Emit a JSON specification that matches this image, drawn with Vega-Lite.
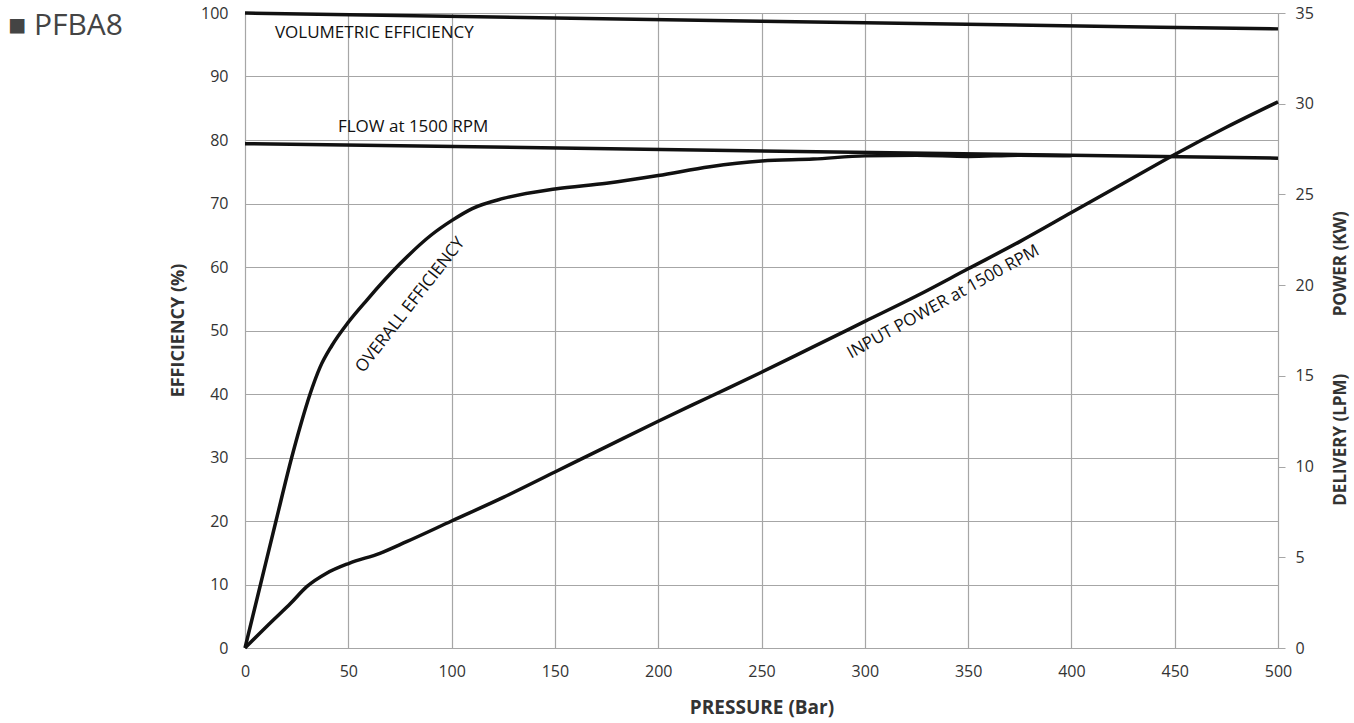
{
  "$schema": "https://vega.github.io/schema/vega-lite/v6.json",
  "width": 1033,
  "height": 635,
  "autosize": {"type": "none"},
  "padding": {"left": 245, "top": 13, "right": 76, "bottom": 75},
  "background": "white",
  "title": {
    "text": "■ PFBA8",
    "anchor": "start",
    "frame": "group",
    "dx": -237,
    "dy": 40,
    "font": "Open Sans",
    "fontSize": 30,
    "fontWeight": "normal",
    "color": "#444444"
  },
  "config": {
    "view": {"stroke": null},
    "axis": {
      "labelFont": "Open Sans",
      "labelFontSize": 16,
      "labelColor": "#333333",
      "titleFont": "Open Sans",
      "titleFontSize": 18,
      "titleFontWeight": "bold",
      "titleColor": "#333333",
      "gridColor": "#a6a6a6",
      "gridWidth": 1.2,
      "domainColor": "#a6a6a6",
      "tickColor": "#a6a6a6"
    }
  },
  "datasets": {
    "left": [
      {"series": "VOL", "p": 0, "v": 100},
      {"series": "VOL", "p": 250, "v": 98.7},
      {"series": "VOL", "p": 500, "v": 97.5},
      {"series": "OVR", "p": 0, "v": 0},
      {"series": "OVR", "p": 7.5, "v": 10},
      {"series": "OVR", "p": 15, "v": 20},
      {"series": "OVR", "p": 22.6, "v": 30},
      {"series": "OVR", "p": 27, "v": 35.2},
      {"series": "OVR", "p": 31.5, "v": 40},
      {"series": "OVR", "p": 36.3, "v": 44.2},
      {"series": "OVR", "p": 42, "v": 47.6},
      {"series": "OVR", "p": 50, "v": 51.3},
      {"series": "OVR", "p": 59, "v": 54.8},
      {"series": "OVR", "p": 75, "v": 60.5},
      {"series": "OVR", "p": 90, "v": 65},
      {"series": "OVR", "p": 100, "v": 67.3},
      {"series": "OVR", "p": 110, "v": 69.2},
      {"series": "OVR", "p": 125, "v": 70.8},
      {"series": "OVR", "p": 150, "v": 72.3},
      {"series": "OVR", "p": 175, "v": 73.2},
      {"series": "OVR", "p": 200, "v": 74.4},
      {"series": "OVR", "p": 225, "v": 75.8},
      {"series": "OVR", "p": 250, "v": 76.7},
      {"series": "OVR", "p": 275, "v": 77.0},
      {"series": "OVR", "p": 300, "v": 77.5},
      {"series": "OVR", "p": 325, "v": 77.6},
      {"series": "OVR", "p": 350, "v": 77.4},
      {"series": "OVR", "p": 375, "v": 77.6},
      {"series": "OVR", "p": 400, "v": 77.5}
    ],
    "right": [
      {"series": "FLOW", "p": 0, "v": 27.8},
      {"series": "FLOW", "p": 500, "v": 27.0},
      {"series": "PWR", "p": 0, "v": 0},
      {"series": "PWR", "p": 13.7, "v": 1.54},
      {"series": "PWR", "p": 22, "v": 2.45},
      {"series": "PWR", "p": 29.9, "v": 3.38},
      {"series": "PWR", "p": 39.5, "v": 4.12},
      {"series": "PWR", "p": 50.4, "v": 4.67},
      {"series": "PWR", "p": 65.3, "v": 5.22},
      {"series": "PWR", "p": 78.2, "v": 5.86},
      {"series": "PWR", "p": 100, "v": 7.0},
      {"series": "PWR", "p": 125, "v": 8.3},
      {"series": "PWR", "p": 150, "v": 9.7},
      {"series": "PWR", "p": 175, "v": 11.1},
      {"series": "PWR", "p": 200, "v": 12.5},
      {"series": "PWR", "p": 225, "v": 13.85},
      {"series": "PWR", "p": 250, "v": 15.2},
      {"series": "PWR", "p": 275, "v": 16.6},
      {"series": "PWR", "p": 300, "v": 18.0},
      {"series": "PWR", "p": 325, "v": 19.4},
      {"series": "PWR", "p": 350, "v": 20.9},
      {"series": "PWR", "p": 375, "v": 22.4},
      {"series": "PWR", "p": 400, "v": 24.0},
      {"series": "PWR", "p": 425, "v": 25.6},
      {"series": "PWR", "p": 450, "v": 27.2},
      {"series": "PWR", "p": 475, "v": 28.7},
      {"series": "PWR", "p": 500, "v": 30.1}
    ],
    "labels": [
      {"label": "VOLUMETRIC EFFICIENCY", "p": 14.5, "v": 96.9},
      {"label": "FLOW at 1500 RPM", "p": 45, "v": 82},
      {"label": "OVERALL EFFICIENCY", "p": 80, "v": 54},
      {"label": "INPUT POWER at 1500 RPM", "p": 338, "v": 54.5}
    ]
  },
  "layer": [
    {
      "encoding": {
        "x": {
          "field": "p",
          "type": "quantitative",
          "scale": {"domain": [0, 500], "nice": false},
          "axis": {
            "values": [0, 50, 100, 150, 200, 250, 300, 350, 400, 450, 500],
            "grid": true,
            "ticks": false,
            "labelFlush": false,
            "labelPadding": 15,
            "title": "PRESSURE (Bar)",
            "titleFontSize": 19,
            "titleY": 59,
            "titleBaseline": "middle"
          }
        },
        "y": {
          "field": "v",
          "type": "quantitative",
          "scale": {"domain": [0, 100], "nice": false},
          "axis": {
            "values": [0, 10, 20, 30, 40, 50, 60, 70, 80, 90, 100],
            "grid": true,
            "ticks": false,
            "domain": false,
            "labelPadding": 17,
            "title": "EFFICIENCY (%)",
            "titleX": -67,
            "titleY": 317,
            "titleBaseline": "middle",
            "titleAlign": "center"
          }
        }
      },
      "layer": [
        {
          "data": {"name": "left"},
          "mark": {"type": "line", "color": "#111111", "strokeWidth": 3.5, "interpolate": "monotone"},
          "encoding": {"detail": {"field": "series"}}
        },
        {
          "data": {"name": "labels"},
          "transform": [{"filter": "datum.label === 'VOLUMETRIC EFFICIENCY' || datum.label === 'FLOW at 1500 RPM'"}],
          "mark": {"type": "text", "align": "left", "baseline": "middle", "font": "Open Sans", "fontSize": 17, "color": "#111111"},
          "encoding": {"text": {"field": "label"}}
        },
        {
          "data": {"name": "labels"},
          "transform": [{"filter": "datum.label === 'OVERALL EFFICIENCY'"}],
          "mark": {"type": "text", "align": "center", "baseline": "middle", "angle": 308, "font": "Open Sans", "fontSize": 17, "color": "#111111"},
          "encoding": {"text": {"field": "label"}}
        },
        {
          "data": {"name": "labels"},
          "transform": [{"filter": "datum.label === 'INPUT POWER at 1500 RPM'"}],
          "mark": {"type": "text", "align": "center", "baseline": "middle", "angle": 331, "font": "Open Sans", "fontSize": 17, "color": "#111111"},
          "encoding": {"text": {"field": "label"}}
        }
      ]
    },
    {
      "data": {"name": "right"},
      "mark": {"type": "line", "color": "#111111", "strokeWidth": 3.5, "interpolate": "monotone"},
      "encoding": {
        "x": {"field": "p", "type": "quantitative", "scale": {"domain": [0, 500], "nice": false}},
        "y": {
          "field": "v",
          "type": "quantitative",
          "scale": {"domain": [0, 35], "nice": false},
          "axis": {
            "orient": "right",
            "values": [0, 5, 10, 15, 20, 25, 30, 35],
            "grid": false,
            "ticks": true,
            "tickSize": 7,
            "domain": true,
            "labelPadding": 10,
            "title": "DELIVERY (LPM)\u00a0\u00a0\u00a0\u00a0\u00a0\u00a0\u00a0\u00a0\u00a0\u00a0\u00a0\u00a0\u00a0POWER (KW)",
            "titleFontSize": 17,
            "titleAngle": 270,
            "titleX": 62,
            "titleY": 345,
            "titleBaseline": "middle",
            "titleAlign": "center"
          }
        },
        "detail": {"field": "series"}
      }
    }
  ],
  "resolve": {"scale": {"y": "independent"}}
}
